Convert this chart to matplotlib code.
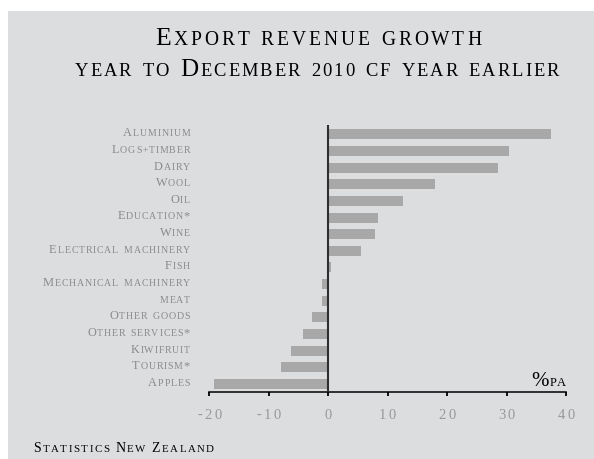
import matplotlib
matplotlib.use("Agg")
import matplotlib.pyplot as plt
from matplotlib.offsetbox import TextArea, HPacker, AnnotationBbox
from matplotlib.patches import Rectangle
from matplotlib.transforms import blended_transform_factory, IdentityTransform

# ---- data -------------------------------------------------------------
categories = ["Aluminium", "Logs+timber", "Dairy", "Wool", "Oil", "Education*",
              "Wine", "Electrical machinery", "Fish", "Mechanical machinery",
              "meat", "Other goods", "Other services*", "Kiwifruit", "Tourism*",
              "Apples"]
growth = [37.4, 30.4, 28.6, 17.9, 12.6, 8.4, 7.8, 5.6, 0.5, -1.0, -1.0,
          -2.7, -4.3, -6.2, -8.0, -19.2]
xticks = [-20, -10, 0, 10, 20, 30, 40]
tick_labels = ["-20", "-10", "0", "10", "20", "30", "40"]

title = "Export revenue growth"
subtitle = "year to December 2010 cf year earlier"
source = "Statistics New Zealand"
unit = "%pa"

# ---- style ------------------------------------------------------------
SERIF = "Liberation Serif"
PANEL = "#dcdddf"
BAR = "#a7a8a7"
LABEL_GREY = "#8a8a8a"
TICK_GREY = "#999999"

W, H = 594, 460
fig = plt.figure(figsize=(W / 100, H / 100), dpi=100)
fig.patch.set_facecolor("white")
fig.add_artist(Rectangle((8 / W, 0), 1, (H - 12) / H, transform=fig.transFigure,
                         facecolor=PANEL, edgecolor="none", zorder=0))


def small_caps(text, size, color, ratio=0.75, track=1.0, word_gap=None):
    """Build a small-caps text box: capitals at full size, the rest upper-cased smaller."""
    if word_gap is None:
        word_gap = size * 0.45
    words = []
    for word in text.split(" "):
        glyphs = []
        for ch in word:
            if ch.islower() or ch.isdigit() or ch in "+-":
                s, c = size * ratio, ch.upper()
            else:
                s, c = size, ch
            glyphs.append(TextArea(c, textprops=dict(fontsize=s, color=color,
                                                     family=SERIF)))
        words.append(HPacker(children=glyphs, align="baseline", pad=0, sep=track))
    return HPacker(children=words, align="baseline", pad=0, sep=word_gap)


def place(box, xy, coords, align):
    ab = AnnotationBbox(box, xy, xycoords=coords, box_alignment=align,
                        frameon=False, pad=0, annotation_clip=False, zorder=5)
    fig.add_artist(ab)


BASE = 0.245  # fraction of the text box height that lies below the baseline

# ---- axes -------------------------------------------------------------
left, right = 209.3, 566.0
axis_y, top_y = 393.3, 126.0
ax = fig.add_axes([left / W, (H - axis_y) / H, (right - left) / W,
                   (axis_y - top_y) / H])
ax.set_facecolor("none")

n = len(categories)
ypos = [n - 1 - i for i in range(n)]
ax.barh(ypos, growth, height=0.6, color=BAR, zorder=2)
ax.axvline(0, color="#2e2e2e", lw=1.5, zorder=3)

ax.set_xlim(-20, 40)
ax.set_ylim(-0.5, n - 1 + 0.56)
for s in ["top", "right", "left"]:
    ax.spines[s].set_visible(False)
ax.spines["bottom"].set_linewidth(1.1)
ax.spines["bottom"].set_color("black")
ax.set_xticks(xticks)
ax.tick_params(axis="x", direction="out", length=3, width=1.3, color="black",
               labelbottom=False)
ax.set_yticks([])

# category labels, right-aligned left of the plot
lab_tr = blended_transform_factory(IdentityTransform(), ax.transData)
for y, name in zip(ypos, categories):
    place(small_caps(name, 8.9, LABEL_GREY, ratio=0.8, track=0.6),
          (190, y), lab_tr, (1, 0.33))

# x tick labels
tick_tr = blended_transform_factory(ax.transData, IdentityTransform())
for v, t in zip(xticks, tick_labels):
    place(small_caps(t, 10.5, TICK_GREY, ratio=1.0, track=1.8),
          (v, H - 418.5), tick_tr, (0.5, BASE))

# unit label
place(small_caps(unit, 15, "black", ratio=0.6, track=0.6),
      (566, H - 386.7), "figure pixels", (1, BASE))

# titles and source
place(small_caps(title, 18.5, "black", ratio=0.76, track=2.1),
      (318, H - 44.7), "figure pixels", (0.5, BASE))
place(small_caps(subtitle, 18.0, "black", ratio=0.74, track=1.4),
      (317, H - 75.5), "figure pixels", (0.5, BASE))
place(small_caps(source, 10.0, "black", ratio=0.78, track=1.1),
      (33, H - 452), "figure pixels", (0, BASE))

fig.savefig("out.png", dpi=100, facecolor=fig.get_facecolor())
